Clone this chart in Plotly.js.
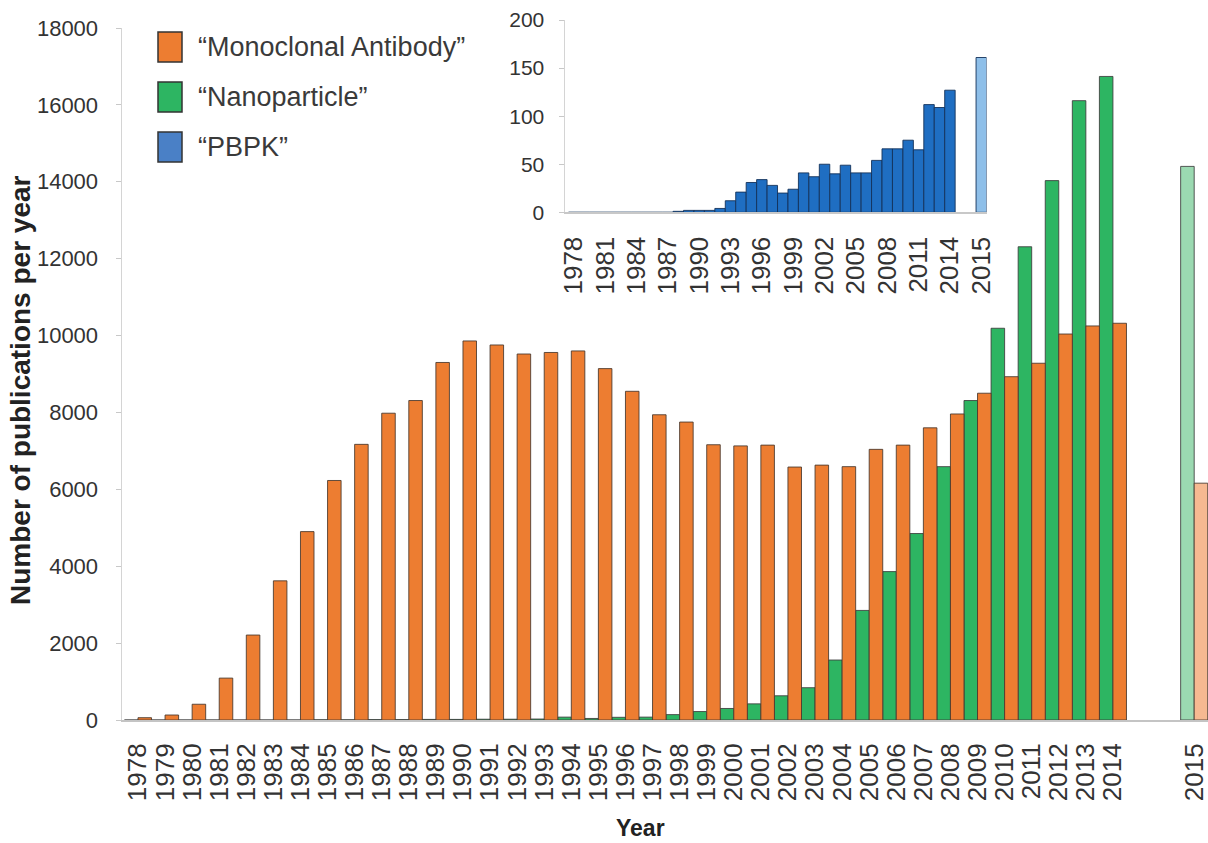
<!DOCTYPE html>
<html>
<head>
<meta charset="utf-8">
<script src="https://cdn.plot.ly/plotly-3.0.1.min.js"></script>
<style>
html,body{margin:0;padding:0;background:#fff;}
#chart{width:1208px;height:843px;}
</style>
</head>
<body>
<div id="chart"></div>
<script>
// ---------- data ----------
const years = [1978,1979,1980,1981,1982,1983,1984,1985,1986,1987,1988,1989,1990,1991,1992,1993,1994,1995,1996,1997,1998,1999,2000,2001,2002,2003,2004,2005,2006,2007,2008,2009,2010,2011,2012,2013,2014,2015];
const monoclonal = [60,130,410,1090,2210,3620,4900,6230,7170,7980,8310,9300,9860,9755,9520,9560,9600,9140,8550,7940,7750,7160,7130,7150,6580,6630,6590,7040,7150,7600,7960,8500,8930,9280,10040,10250,10320,6160];
const nanoparticle = [0,0,0,0,0,0,0,5,5,10,10,15,15,20,20,25,75,40,70,75,140,220,300,420,630,840,1560,2850,3860,4850,6590,8310,10190,12310,14030,16110,16740,14400];
const pbpk = [0,0,0,0,0,0,0,0,0,0,1,2,2,2,4,12,21,31,34,28,20,24,41,37,50,40,49,41,41,54,66,66,75,65,112,109,127,161];
const insetTickYears = [1978,1981,1984,1987,1990,1993,1996,1999,2002,2005,2008,2011,2014,2015];
const partialYear = 2015;            // incomplete year, drawn lighter after a gap
const gapCategories = ['gap-a','gap-b'];
const seriesNames = ['\u201cMonoclonal Antibody\u201d','\u201cNanoparticle\u201d','\u201cPBPK\u201d'];
const yTicksMain = [0,2000,4000,6000,8000,10000,12000,14000,16000,18000];
const yTicksInset = [0,50,100,150,200];

// ---------- styles ----------
const C = {
  orange:'#ED7D31', orangeLight:'#F6B991',
  green:'#2DB562', greenLight:'#9BD9B1',
  blue:'#1F6EC2', blueLight:'#8EBFE9',
  legendBlue:'#4A80C6'
};
const sans = 'Liberation Sans, Arial, sans-serif';

// build category x with a visual gap before the partial year
function buildSeries(values, base, light){
  const x=[], y=[], col=[];
  years.forEach((yr,i)=>{
    if(yr===partialYear){
      gapCategories.forEach(g=>{x.push(g);y.push(null);col.push(base);});
    }
    x.push(String(yr)); y.push(values[i]); col.push(yr===partialYear?light:base);
  });
  return {x,y,col};
}

const sN = buildSeries(nanoparticle, C.green, C.greenLight);
const sM = buildSeries(monoclonal, C.orange, C.orangeLight);
const sP = buildSeries(pbpk, C.blue, C.blueLight);

const traces = [
  {type:'bar', name:seriesNames[1], x:sN.x, y:sN.y, xaxis:'x', yaxis:'y',
   marker:{color:sN.col, line:{color:'rgba(60,60,60,0.85)', width:1}}, showlegend:false, hoverinfo:'x+y'},
  {type:'bar', name:seriesNames[0], x:sM.x, y:sM.y, xaxis:'x', yaxis:'y',
   marker:{color:sM.col, line:{color:'rgba(70,55,45,0.85)', width:1}}, showlegend:false, hoverinfo:'x+y'},
  {type:'bar', name:seriesNames[2], x:sP.x, y:sP.y, xaxis:'x2', yaxis:'y2',
   marker:{color:sP.col, line:{color:'rgba(20,50,90,0.9)', width:1}}, showlegend:false, hoverinfo:'x+y'}
];

const W=1208, H=843, mt=20, mb=123;
const plotH = H-mt-mb;
const px = v => v/W;               // horizontal pixel -> paper fraction
const py = v => (H-mb - v)/plotH;  // vertical pixel -> paper fraction

const allCats = sM.x;

// manual legend (large swatches as in the original)
const legendColors = [C.orange, C.green, C.legendBlue];
const shapes = [], annotations = [];
legendColors.forEach((c,i)=>{
  const cy = 47 + i*50;
  shapes.push({type:'rect', xref:'paper', yref:'paper',
    x0:px(158), x1:px(182), y0:py(cy+15), y1:py(cy-15),
    fillcolor:c, line:{color:'#333', width:1.5}});
  annotations.push({xref:'paper', yref:'paper', x:px(196), y:py(cy), xanchor:'left', yanchor:'middle',
    text:seriesNames[i], showarrow:false, font:{family:sans, size:27, color:'#3a3a3a'}});
});
annotations.push({xref:'paper', yref:'paper', x:px(640), y:py(828), xanchor:'center', yanchor:'middle',
  text:'Year', showarrow:false, font:{family:sans, size:23, color:'#222', weight:'bold'}});
annotations.push({xref:'paper', yref:'paper', x:px(20), y:py(390), xanchor:'center', yanchor:'middle',
  text:'Number of publications per year', textangle:-90, showarrow:false,
  font:{family:sans, size:28, color:'#222', weight:'bold'}});

const layout = {
  width:W, height:H,
  margin:{l:0, r:0, t:mt, b:mb, pad:0},
  paper_bgcolor:'#fff', plot_bgcolor:'rgba(0,0,0,0)',
  barmode:'group', bargap:0, bargroupgap:0,
  showlegend:false,
  xaxis:{domain:[px(122),1], type:'category', categoryorder:'array', categoryarray:allCats,
    range:[-0.59,39.51], tickmode:'array', tickvals:years.map(String), ticktext:years.map(String),
    tickangle:-90, tickfont:{family:sans, size:26, color:'#333'}, ticks:'', ticklabelstandoff:11,
    showline:true, linecolor:'#c4c4c4', linewidth:2, showgrid:false, zeroline:false, fixedrange:true},
  yaxis:{domain:[0, py(28)], range:[0,18000], tickmode:'array', tickvals:yTicksMain, ticktext:yTicksMain.map(String),
    tickfont:{family:sans, size:22, color:'#333'}, ticks:'outside', ticklen:5, tickcolor:'#c8c8c8',
    ticklabelstandoff:13, showline:true, linecolor:'#d4d4d4', linewidth:1.5, showgrid:false, zeroline:false, fixedrange:true},
  xaxis2:{domain:[px(565), px(986.5)], anchor:'y2', type:'category', categoryorder:'array', categoryarray:allCats,
    range:[-0.84,39.5], tickmode:'array', tickvals:insetTickYears.map(String), ticktext:insetTickYears.map(String),
    tickangle:-90, tickfont:{family:sans, size:26, color:'#333'}, ticks:'', ticklabelstandoff:12,
    showline:true, linecolor:'#c8c8c8', linewidth:2, showgrid:false, zeroline:false, fixedrange:true},
  yaxis2:{domain:[py(212.3), 1], anchor:'x2', range:[0,200], tickmode:'array', tickvals:yTicksInset, ticktext:yTicksInset.map(String),
    tickfont:{family:sans, size:21, color:'#333'}, ticks:'outside', ticklen:5, tickcolor:'#c8c8c8',
    ticklabelstandoff:10, showline:true, linecolor:'#d4d4d4', linewidth:1.5, showgrid:false, zeroline:false, fixedrange:true},
  shapes, annotations
};

Plotly.newPlot('chart', traces, layout, {displayModeBar:false, staticPlot:true});
</script>
</body>
</html>
